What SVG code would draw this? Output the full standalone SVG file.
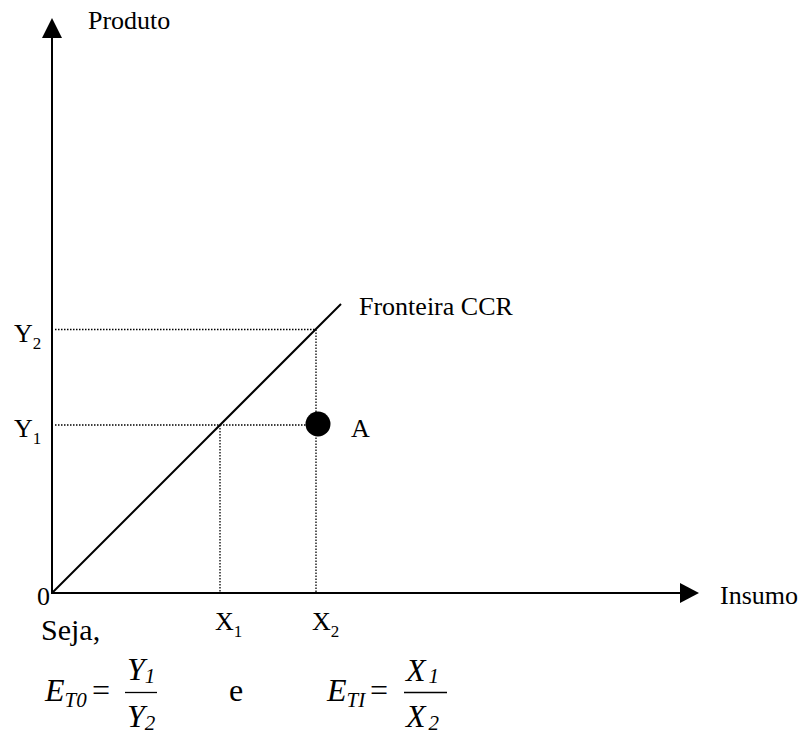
<svg xmlns="http://www.w3.org/2000/svg" width="802" height="735" viewBox="0 0 802 735">
<style>
text{font-family:'Liberation Serif','DejaVu Serif','Times New Roman',serif;fill:#000}
.lbl{font-size:26px}
.sub{font-size:17px}
.eq{font-size:32px;font-style:italic}
.eqs{font-size:21px;font-style:italic}
.eqn{font-size:32px}
.axis{stroke:#000;stroke-width:2;fill:none}
.dot{stroke:#000;stroke-width:1.3;stroke-dasharray:1.5 1.5;fill:none}
</style>
<rect width="802" height="735" fill="#fff"/>
<g id="connectors">
<line class="axis" x1="52" y1="593" x2="52" y2="36"/>
<polygon points="52,18 42,38 62,38" fill="#000"/>
<line class="axis" x1="51" y1="593" x2="682" y2="593"/>
<polygon points="699,593 680,583 680,603" fill="#000"/>
<line class="axis" x1="52" y1="593" x2="341" y2="304"/>
<line class="dot" x1="55" y1="329.5" x2="316" y2="329.5"/>
<line class="dot" x1="316" y1="329.5" x2="316" y2="593"/>
<line class="dot" x1="55" y1="425" x2="306" y2="425"/>
<line class="dot" x1="220" y1="425" x2="220" y2="593"/>
</g>
<g id="point-A">
<circle cx="318" cy="424" r="12.5" fill="#000"/>
<text class="lbl" x="351" y="437" font-family="Liberation Serif">A</text>
</g>
<g id="axis-labels">
<text class="lbl" x="88" y="29" font-family="Liberation Serif">Produto</text>
<text class="lbl" x="720" y="604" font-family="Liberation Serif">Insumo</text>
<text class="lbl" x="37" y="605" font-family="Liberation Serif">0</text>
<text class="lbl" x="359" y="315" font-family="Liberation Serif">Fronteira CCR</text>
</g>
<g id="y-labels">
<text class="lbl" x="14" y="342">Y<tspan class="sub" dy="7">2</tspan></text>
<text class="lbl" x="14" y="437">Y<tspan class="sub" dy="7">1</tspan></text>
</g>
<g id="x-labels">
<text class="lbl" x="215" y="630">X<tspan class="sub" dy="7">1</tspan></text>
<text class="lbl" x="312" y="630">X<tspan class="sub" dy="7">2</tspan></text>
</g>
<g id="formulas">
<text class="lbl" x="41" y="640" style="font-size:30px">Seja,</text>
<text class="eq" x="45" y="701">E<tspan class="eqs" dy="6">T</tspan><tspan class="eqs" font-style="normal">0</tspan></text>
<text class="eqn" x="92" y="701">=</text>
<line x1="125" y1="692.5" x2="157" y2="692.5" stroke="#000" stroke-width="1.3"/>
<text class="eq" x="127" y="680">Y<tspan class="eqs" font-style="normal" dy="3">1</tspan></text>
<text class="eq" x="127" y="727">Y<tspan class="eqs" font-style="normal" dy="3">2</tspan></text>
<text class="eqn" x="229" y="701">e</text>
<text class="eq" x="327" y="701">E<tspan class="eqs" dy="6">TI</tspan></text>
<text class="eqn" x="370" y="701">=</text>
<line x1="404" y1="692.5" x2="447" y2="692.5" stroke="#000" stroke-width="1.3"/>
<text class="eq" x="406" y="681">X<tspan class="eqs" font-style="normal" dy="2" dx="3">1</tspan></text>
<text class="eq" x="406" y="727">X<tspan class="eqs" font-style="normal" dy="3" dx="3">2</tspan></text>
</g>
</svg>
